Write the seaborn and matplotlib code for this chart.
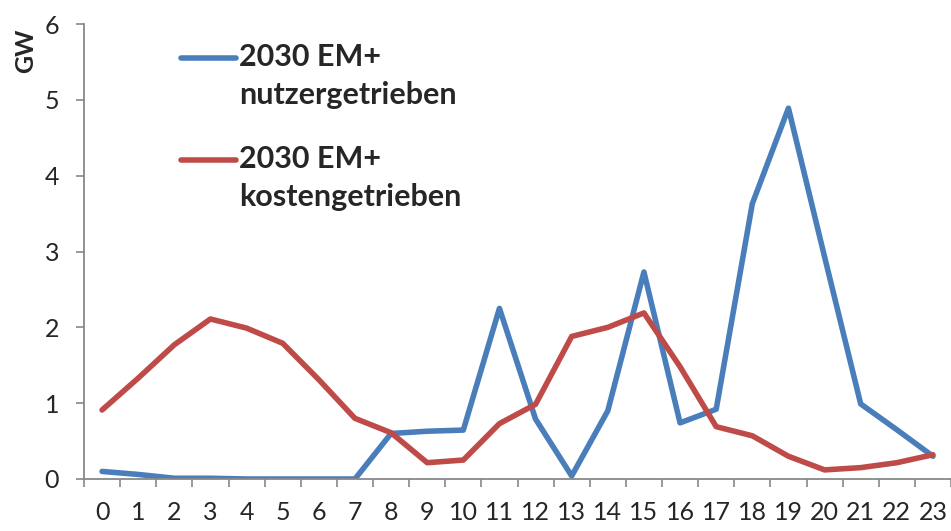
import matplotlib
matplotlib.use("Agg")
import matplotlib.pyplot as plt
import numpy as np
import pandas as pd
import seaborn as sns

# hours of the day
hours = list(range(24))

# 2030 EM+ nutzergetrieben (GW)
nutzer = [0.10, 0.06, 0.01, 0.01, 0.00, 0.00, 0.00, 0.00, 0.60, 0.63, 0.645, 2.25,
          0.79, 0.04, 0.90, 2.73, 0.74, 0.92, 3.63, 4.89, 2.93, 0.99, 0.65, 0.30]

# 2030 EM+ kostengetrieben (GW)
kosten = [0.91, 1.33, 1.77, 2.11, 1.99, 1.79, 1.31, 0.80, 0.61, 0.215, 0.25, 0.73,
          0.985, 1.88, 2.00, 2.19, 1.48, 0.69, 0.57, 0.30, 0.12, 0.15, 0.215, 0.32]

labels = ["2030 EM+\nnutzergetrieben", "2030 EM+\nkostengetrieben"]
colors = ["#4A7EBB", "#BE4B48"]

df = pd.DataFrame({"hour": hours * 2,
                   "GW": nutzer + kosten,
                   "series": [labels[0]] * 24 + [labels[1]] * 24})

sns.set_style("white")
plt.rcParams["font.family"] = ["Lato", "DejaVu Sans"]

fig = plt.figure(figsize=(9.51, 5.31), dpi=100)
ax = fig.add_axes([84 / 951, 52 / 531, 1 - 84 / 951, 455 / 531])

sns.lineplot(data=df, x="hour", y="GW", hue="series", palette=colors,
             linewidth=4, ax=ax, legend=False)

ax.set_xlim(-0.5, 23.5)
ax.set_ylim(0, 6)
ax.set_yticks(range(7))
ax.set_xticks(hours)
ax.set_xticks(np.arange(-0.5, 24, 1), minor=True)
ax.tick_params(axis="x", which="major", length=0, pad=16, labelsize=18)
ax.tick_params(axis="x", which="minor", length=6, width=1.2, color="#888888",
               direction="out", bottom=True)
ax.tick_params(axis="y", length=6, width=1.2, color="#888888", direction="out",
               left=True, pad=12, labelsize=18)
ax.set_xlabel("")
ax.set_ylabel("")
for s in ["top", "right"]:
    ax.spines[s].set_visible(False)
for s in ["left", "bottom"]:
    ax.spines[s].set_color("#888888")
    ax.spines[s].set_linewidth(1.3)

fig.text(0.027, 0.904, "GW", rotation=90, fontsize=18, fontweight="bold",
         ha="center", va="center")

leg = ax.legend(ax.get_lines()[:2], labels, loc="upper left",
                bbox_to_anchor=(0.112, 0.958), frameon=False,
                prop={"size": 22, "weight": "bold"}, handlelength=1.8,
                handletextpad=0.1, labelspacing=1.15, borderpad=0,
                borderaxespad=0)
for t in leg.get_texts():
    t.set_linespacing(1.45)
for ln in leg.get_lines():
    ln.set_linewidth(4)
    ln.set_ydata(np.asarray(ln.get_ydata()) + 13.7)

fig.savefig("out.png", dpi=100)
